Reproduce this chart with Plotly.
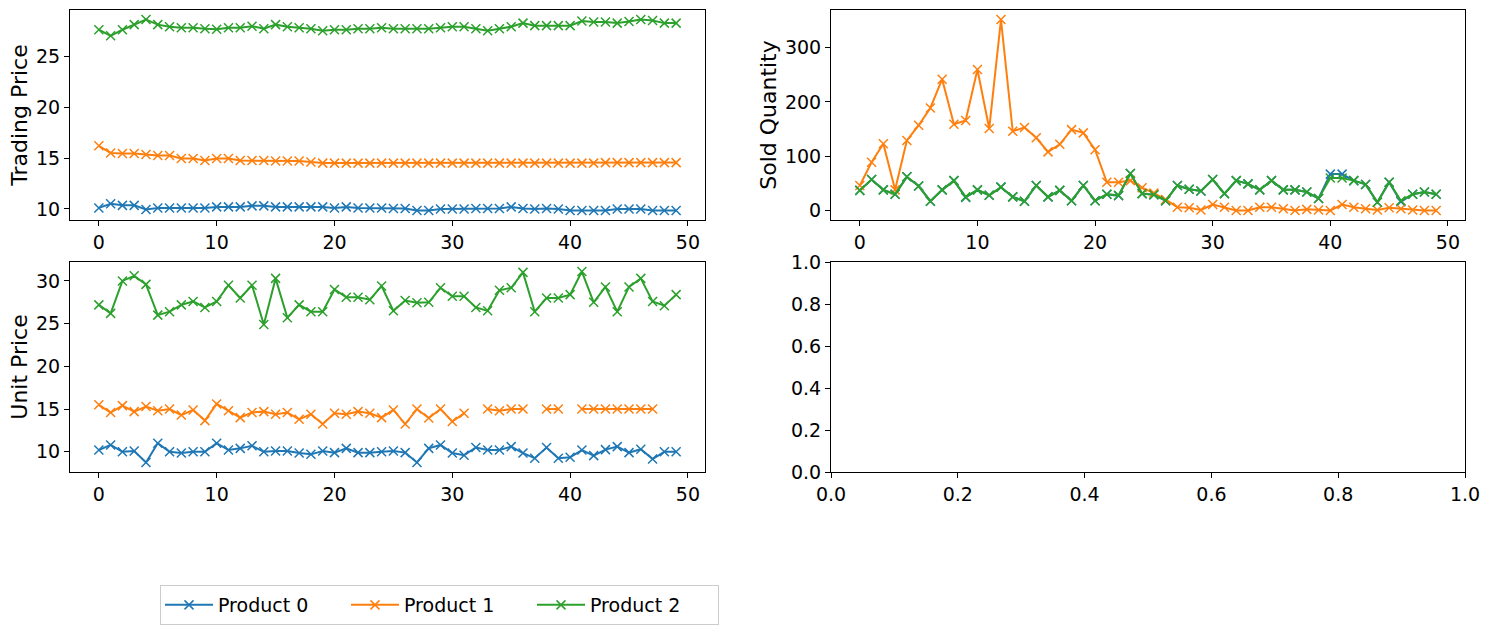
import plotly.graph_objects as go
from plotly.subplots import make_subplots

x_index = list(range(50))
product_names = ["Product 0", "Product 1", "Product 2"]
colors = ["#1f77b4", "#ff7f0e", "#2ca02c"]

trading_price_p0 = [10.1, 10.5, 10.35, 10.35, 9.95, 10.1, 10.1, 10.1, 10.1, 10.1,
                    10.2, 10.2, 10.2, 10.3, 10.3, 10.2, 10.2, 10.2, 10.2, 10.2,
                    10.1, 10.2, 10.1, 10.1, 10.1, 10.05, 10.05, 9.85, 9.85, 10.0,
                    10.0, 10.0, 10.05, 10.05, 10.05, 10.2, 10.05, 10.0, 10.05, 10.0,
                    9.85, 9.85, 9.85, 9.85, 10.0, 10.0, 10.0, 9.85, 9.85, 9.85]
trading_price_p1 = [16.2, 15.5, 15.45, 15.45, 15.35, 15.25, 15.25, 14.95, 14.95, 14.75,
                    14.95, 14.95, 14.75, 14.75, 14.75, 14.7, 14.7, 14.7, 14.6, 14.5,
                    14.5, 14.5, 14.5, 14.5, 14.5, 14.5, 14.5, 14.5, 14.5, 14.5,
                    14.5, 14.5, 14.5, 14.5, 14.5, 14.5, 14.5, 14.5, 14.5, 14.5,
                    14.5, 14.5, 14.5, 14.55, 14.55, 14.55, 14.55, 14.55, 14.55, 14.55]
trading_price_p2 = [27.6, 27.0, 27.6, 28.1, 28.6, 28.1, 27.9, 27.8, 27.8, 27.7,
                    27.65, 27.8, 27.8, 27.95, 27.7, 28.1, 27.9, 27.8, 27.7, 27.5,
                    27.6, 27.6, 27.7, 27.7, 27.8, 27.7, 27.7, 27.7, 27.7, 27.8,
                    27.9, 27.9, 27.7, 27.5, 27.7, 27.9, 28.25, 28.0, 28.0, 28.0,
                    28.0, 28.45, 28.35, 28.35, 28.25, 28.4, 28.6, 28.5, 28.25, 28.25]

sold_qty_p0 = [37, 57, 38, 30, 62, 45, 17, 38, 55, 24,
               38, 28, 43, 25, 17, 46, 25, 37, 18, 46,
               18, 30, 27, 68, 31, 29, 18, 46, 39, 36,
               57, 31, 55, 49, 38, 55, 38, 38, 34, 22,
               67, 67, 55, 48, 15, 52, 16, 30, 34, 30]
sold_qty_p1 = [46, 89, 123, 38, 129, 157, 189, 242, 159, 166,
               260, 151, 352, 146, 153, 134, 108, 122, 149, 143,
               112, 52, 52, 55, 42, 32, 20, 6, 5, 1,
               11, 6, 0, 0, 6, 6, 3, 0, 2, 1,
               0, 11, 6, 3, 1, 5, 3, 1, 0, 0]
sold_qty_p2 = [37, 57, 38, 30, 62, 45, 17, 38, 55, 25,
               38, 28, 43, 25, 17, 46, 25, 37, 18, 46,
               18, 30, 28, 68, 31, 29, 18, 46, 39, 36,
               57, 31, 55, 49, 38, 55, 38, 38, 34, 22,
               60, 60, 55, 48, 15, 52, 18, 30, 34, 30]

unit_price_p0 = [10.2, 10.8, 10.0, 10.1, 8.75, 11.0, 10.0, 9.85, 10.0, 10.0,
                 11.0, 10.2, 10.4, 10.7, 10.0, 10.1, 10.1, 9.85, 9.7, 10.1,
                 9.9, 10.4, 9.9, 9.9, 10.0, 10.1, 9.9, 8.75, 10.4, 10.8,
                 9.85, 9.6, 10.5, 10.2, 10.2, 10.6, 9.85, 9.25, 10.5, 9.25,
                 9.35, 10.2, 9.55, 10.25, 10.6, 9.9, 10.3, 9.15, 10.0, 10.0]
unit_price_p1 = [15.5, 14.6, 15.4, 14.7, 15.3, 14.8, 15.0, 14.3, 14.9, 13.65,
                 15.6, 14.8, 14.0, 14.6, 14.7, 14.4, 14.6, 13.8, 14.4, 13.25,
                 14.5, 14.4, 14.7, 14.5, 14.0, 14.9, 13.25, 15.0, 13.95, 15.0,
                 13.55, 14.5, None, 15.0, 14.8, 15.0, 15.0, None, 15.0, 15.0,
                 None, 15.0, 15.0, 15.0, 15.0, 15.0, 15.0, 15.0, None, None]
unit_price_p2 = [27.2, 26.2, 30.0, 30.6, 29.6, 26.0, 26.4, 27.2, 27.6, 26.9,
                 27.6, 29.5, 28.0, 29.5, 24.9, 30.3, 25.7, 27.2, 26.4, 26.4,
                 29.0, 28.1, 28.1, 27.8, 29.4, 26.5, 27.7, 27.45, 27.5, 29.2,
                 28.2, 28.2, 26.9, 26.5, 28.9, 29.2, 31.0, 26.4, 28.0, 28.0,
                 28.4, 31.1, 27.5, 29.3, 26.4, 29.3, 30.3, 27.6, 27.1, 28.4]

panels = [
    ("Trading Price", [trading_price_p0, trading_price_p1, trading_price_p2], 1, 1, 5),
    ("Sold Quantity", [sold_qty_p0, sold_qty_p1, sold_qty_p2], 1, 2, 100),
    ("Unit Price", [unit_price_p0, unit_price_p1, unit_price_p2], 2, 1, 5),
]

W, H = 1490, 631
FONT = "DejaVu Sans"

fig = make_subplots(rows=2, cols=2)


def mpl_range(vals):
    v = [a for a in vals if a is not None]
    lo, hi = min(v), max(v)
    pad = (hi - lo) * 0.05
    return [lo - pad, hi + pad]


for title, series, r, c, dt in panels:
    allv = []
    for i, (name, col, ys) in enumerate(zip(product_names, colors, series)):
        allv += ys
        fig.add_trace(go.Scatter(
            x=x_index, y=ys, mode="lines+markers", name=name,
            line=dict(color=col, width=2),
            marker=dict(symbol="x-thin", size=9, line=dict(color=col, width=1.5), color=col),
            legendgroup=name, showlegend=(r == 1 and c == 1),
            connectgaps=False,
        ), row=r, col=c)
    fig.update_yaxes(range=mpl_range(allv), dtick=dt, title_text=title, row=r, col=c)
    fig.update_xaxes(range=mpl_range(x_index), dtick=10, row=r, col=c)

# empty fourth panel (needs a placeholder trace so the axes are drawn)
fig.add_trace(go.Scatter(x=[None], y=[None], mode="markers", showlegend=False,
                         hoverinfo="skip"), row=2, col=2)
fig.update_xaxes(range=[0, 1], dtick=0.2, tickformat=".1f", row=2, col=2)
fig.update_yaxes(range=[0, 1], dtick=0.2, tickformat=".1f", row=2, col=2)

# domains (pixel based)
xl = [70 / W, 705 / W]
xr = [831 / W, 1465 / W]
yt = [1 - 220 / H, 1 - 10 / H]
yb = [1 - 472 / H, 1 - 262 / H]
fig.update_layout(
    xaxis=dict(domain=xl), yaxis=dict(domain=yt),
    xaxis2=dict(domain=xr), yaxis2=dict(domain=yt),
    xaxis3=dict(domain=xl), yaxis3=dict(domain=yb),
    xaxis4=dict(domain=xr), yaxis4=dict(domain=yb),
)

axis_style = dict(
    showline=True, linecolor="black", linewidth=1.1, mirror=True,
    ticks="outside", ticklen=5, tickwidth=1.1, tickcolor="black",
    showgrid=False, zeroline=False, automargin=False,
    tickfont=dict(family=FONT, size=19, color="black"),
)
fig.update_xaxes(**axis_style)
fig.update_yaxes(**axis_style, title_font=dict(family=FONT, size=22, color="black"),
                 title_standoff=2)

fig.update_layout(
    width=W, height=H,
    margin=dict(l=0, r=0, t=0, b=0, autoexpand=False),
    paper_bgcolor="white", plot_bgcolor="white",
    font=dict(family=FONT, size=19, color="black"),
    legend=dict(
        orientation="h", x=160 / W, y=1 - 585 / H, xanchor="left", yanchor="top",
        bgcolor="white", bordercolor="#cccccc", borderwidth=1,
        font=dict(family=FONT, size=19, color="black"),
        itemwidth=48,
        entrywidth=123, entrywidthmode="pixels",
    ),
)

fig.write_html("out.html")
